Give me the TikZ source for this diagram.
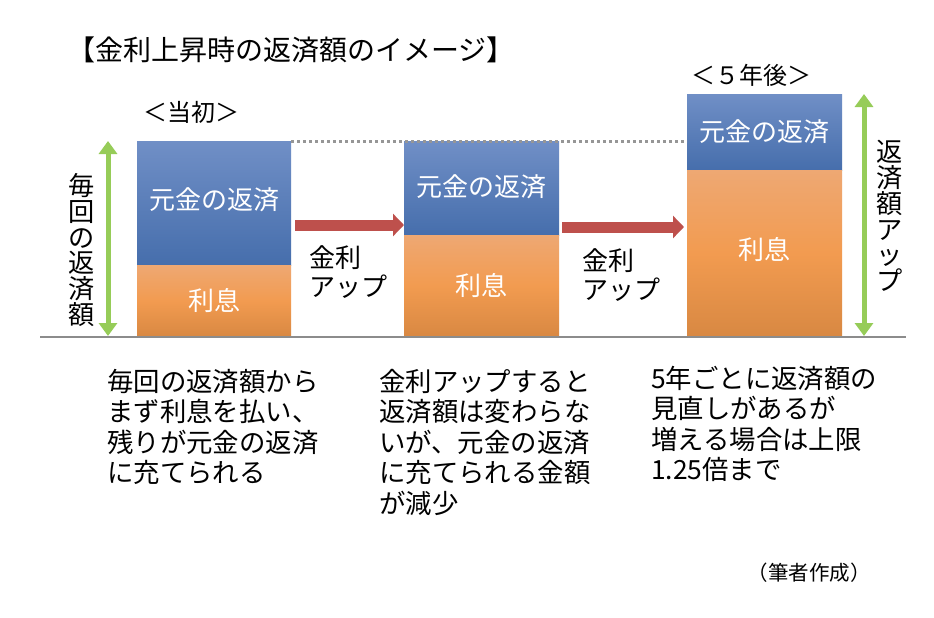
\documentclass[tikz,border=0pt]{standalone}
\usepackage{fontspec}
\setmainfont{Noto Sans CJK JP}
\usetikzlibrary{arrows.meta,calc}
\definecolor{blueTop}{RGB}{112,143,198}
\definecolor{blueBot}{RGB}{70,110,172}
\definecolor{orTop}{RGB}{238,168,115}
\definecolor{orMid}{RGB}{242,155,80}
\definecolor{orBot}{RGB}{216,136,66}
\definecolor{arrRed}{RGB}{190,80,76}
\definecolor{grn}{RGB}{150,204,88}
\definecolor{baseGray}{RGB}{140,140,140}
\definecolor{dotGray}{RGB}{150,150,150}
\begin{document}
\begin{tikzpicture}[x=1pt,y=-1pt,
  bluebar/.style={top color=blueTop,bottom color=blueBot},
  orbar/.style={top color=orTop,bottom color=orBot,middle color=orMid},
  lbl/.style={text=white,font=\fontsize{26}{26}\selectfont,inner sep=0},
  txt/.style={font=\fontsize{26.4}{30.5}\selectfont,align=left,inner sep=0,anchor=north west},
  vtxt/.style={font=\fontsize{26.2}{25.7}\selectfont,align=center,inner sep=0},
  hdr/.style={font=\fontsize{24}{24}\selectfont,inner sep=0},
  redarrow/.style={line width=11pt,draw=arrRed,-{Triangle[width=22pt,length=11pt]}},
  grnarrow/.style={line width=5pt,draw=grn,{Triangle[width=18pt,length=13pt]}-{Triangle[width=18pt,length=13pt]}},
  uptxt/.style={font=\fontsize{26}{29}\selectfont,align=left,inner sep=0,anchor=west}]
\useasboundingbox (0,0) rectangle (934,618);
\fill[white] (0,0) rectangle (934,618);
% title
\node[font=\fontsize{28}{28}\selectfont,inner sep=0,anchor=west] (title) at (67,50) {【金利上昇時の返済額のイメージ】};
\node[hdr] (h1) at (191,112) {＜当初＞};
\node[hdr] (h3) at (751,75) {＜５年後＞};
% coordinates
\coordinate (b1tl) at (137,141); \coordinate (b1m) at (291,265); \coordinate (b1br) at (291,337);
\coordinate (b2tl) at (404,141); \coordinate (b2m) at (559,235); \coordinate (b2br) at (559,337);
\coordinate (b3tl) at (687,94); \coordinate (b3m) at (842,170); \coordinate (b3br) at (842,337);
% bars
\shade[bluebar] (b1tl) rectangle (b1m);
\shade[orbar] (b1tl |- b1m) rectangle (b1br);
\shade[bluebar] (b2tl) rectangle (b2m);
\shade[orbar] (b2tl |- b2m) rectangle (b2br);
\shade[bluebar] (b3tl) rectangle (b3m);
\shade[orbar] (b3tl |- b3m) rectangle (b3br);
% baseline & dotted
\coordinate (bl0) at (40,337); \coordinate (bl1) at (906,337);
\draw[baseGray,line width=2pt] (bl0) -- (bl1);
\draw[dotGray,line width=3pt,dash pattern=on 3pt off 3pt] (b1m |- b1tl) -- (b3tl |- b1tl);
% bar labels
\node[lbl] (p1) at (214,200) {元金の返済};
\node[lbl] (i1) at (214,300) {利息};
\node[lbl] (p2) at (481,187) {元金の返済};
\node[lbl] (i2) at (481,285) {利息};
\node[lbl] (p3) at (764,132) {元金の返済};
\node[lbl] (i3) at (764,250) {利息};
% red arrows
\coordinate (r1s) at (295,225); \coordinate (r1e) at (404,225);
\coordinate (r2s) at (562,227); \coordinate (r2e) at (684,227);
\draw[redarrow] (r1s) -- (r1e);
\draw[redarrow] (r2s) -- (r2e);
\node[uptxt] (u1) at (309,272) {金利\\アップ};
\node[uptxt] (u2) at (582,275) {金利\\アップ};
% green arrows
\coordinate (g1t) at (108,141); \coordinate (g1b) at (108,336);
\coordinate (g2t) at (864,94); \coordinate (g2b) at (864,336);
\draw[grnarrow] (g1t) -- (g1b);
\draw[grnarrow] (g2t) -- (g2b);
\node[vtxt] (v1) at (82,250) {毎\\回\\の\\返\\済\\額};
\node[vtxt] (v2) at (890,216) {返\\済\\額\\ア\\ッ\\プ};
% bottom texts
\node[txt] (t1) at (107,369) {毎回の返済額から\\まず利息を払い、\\残りが元金の返済\\に充てられる};
\node[txt] (t2) at (379,369) {金利アップすると\\返済額は変わらな\\いが、元金の返済\\に充てられる金額\\が減少};
\node[txt] (t3) at (651,366) {5年ごとに返済額の\\見直しがあるが\\増える場合は上限\\1.25倍まで};
\node[font=\fontsize{20.5}{20.5}\selectfont,inner sep=0] (src) at (809,573) {（筆者作成）};
\end{tikzpicture}
\end{document}
